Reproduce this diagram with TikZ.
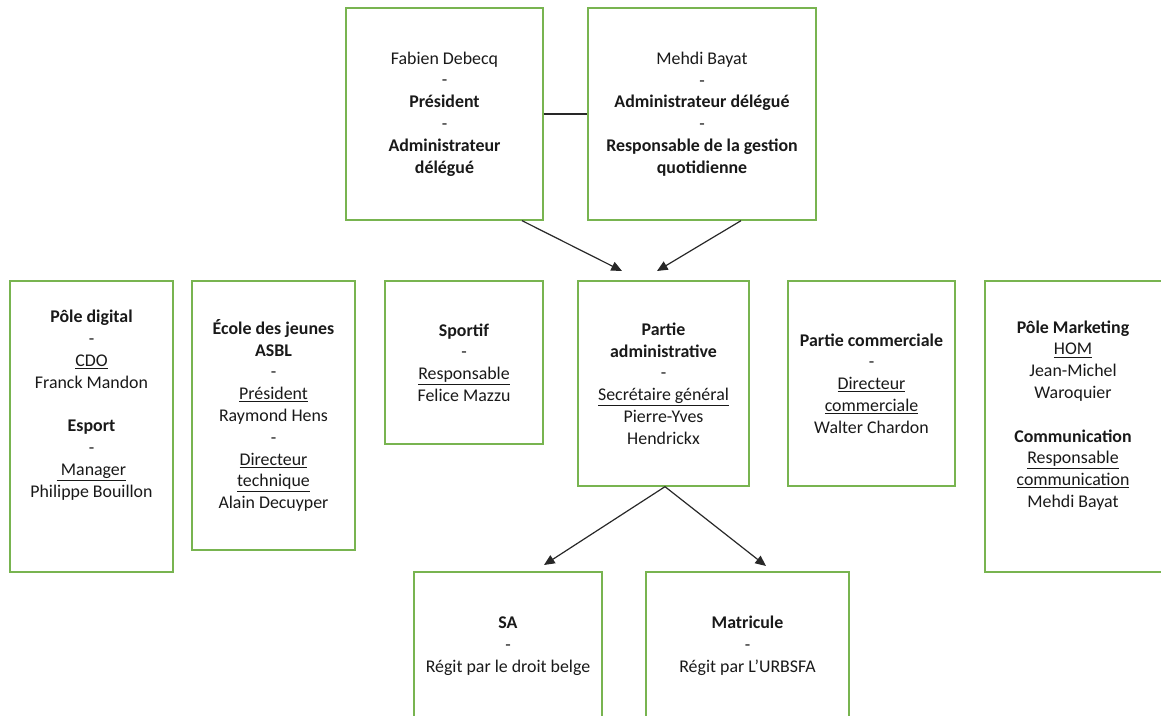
\documentclass[tikz,border=0pt]{standalone}
\usepackage{fontspec}
\setmainfont{Carlito}
\usetikzlibrary{arrows.meta,calc}
\definecolor{boxgreen}{RGB}{120,180,80}
\definecolor{linegray}{RGB}{40,40,40}
\definecolor{textgray}{RGB}{25,25,25}
\tikzset{
  box/.style={draw=boxgreen, line width=1pt, align=center, inner sep=0pt, text=textgray,
    font=\fontsize{13.4}{16.35}\selectfont},
  txt/.style={align=center, inner sep=0pt, text=textgray, font=\fontsize{13.4}{16.35}\selectfont},
  arr/.style={draw=linegray, line width=0.9pt, -{Triangle[length=8pt,width=7pt]}},
  link/.style={draw=linegray, line width=0.9pt}
}
\begin{document}
\begin{tikzpicture}[x=0.75pt,y=-0.75pt]
\useasboundingbox (0,0) rectangle (1161,716);
\clip (0,0) rectangle (1161,716);
% top row
\node[box, minimum width=197*0.75pt, minimum height=212*0.75pt] (fab) at (444.5,114)
  {Fabien Debecq\\-\\\textbf{Président}\\-\\\textbf{Administrateur}\\\textbf{délégué}};
\node[box, minimum width=228*0.75pt, minimum height=212*0.75pt] (meh) at (702,114)
  {Mehdi Bayat\\-\\\textbf{Administrateur délégué}\\-\\\textbf{Responsable de la gestion}\\\textbf{quotidienne}};
\draw[link] (fab.east) -- (meh.west);
% middle row
\node[box, minimum width=163*0.75pt, minimum height=291*0.75pt] (dig) at (91.5,426.5) {};
\node[txt] (digt) at (91.5,405)
  {\textbf{Pôle digital}\\-\\\underline{CDO}\\Franck Mandon\\[16.35pt]\textbf{Esport}\\-\\\underline{\ Manager}\\Philippe Bouillon};
\node[box, minimum width=163*0.75pt, minimum height=269*0.75pt] (eco) at (273.5,415.5)
  {\textbf{École des jeunes}\\\textbf{ASBL}\\-\\\underline{Président}\\Raymond Hens\\-\\\underline{Directeur}\\\underline{technique}\\Alain Decuyper};
\node[box, minimum width=158*0.75pt, minimum height=163*0.75pt] (spo) at (464,362.5)
  {\textbf{Sportif}\\-\\\underline{Responsable}\\Felice Mazzu};
\node[box, minimum width=171*0.75pt, minimum height=205*0.75pt] (adm) at (663.5,383.5)
  {\textbf{Partie}\\\textbf{administrative}\\-\\\underline{Secrétaire général}\\Pierre-Yves\\Hendrickx};
\node[box, minimum width=167*0.75pt, minimum height=205*0.75pt] (com) at (871.5,383.5)
  {\textbf{Partie commerciale}\\-\\\underline{Directeur}\\\underline{commerciale}\\Walter Chardon};
\node[box, minimum width=177*0.75pt, minimum height=291*0.75pt] (mkt) at (1073.5,426.5) {};
\node[txt] (mktt) at (1073,415.5)
  {\textbf{Pôle Marketing}\\\underline{HOM}\\Jean-Michel\\Waroquier\\[16.35pt]\textbf{Communication}\\\underline{Responsable}\\\underline{communication}\\Mehdi Bayat};
% bottom row
\node[box, minimum width=188*0.75pt, minimum height=148*0.75pt] (sa) at (508,646)
  {\textbf{SA}\\-\\Régit par le droit belge};
\node[box, minimum width=203*0.75pt, minimum height=148*0.75pt] (mat) at (747.5,646)
  {\textbf{Matricule}\\-\\Régit par L’URBSFA};
% arrows
\coordinate (e1) at (622,271);
\coordinate (e2) at (657,271);
\coordinate (e3) at (544,565);
\coordinate (e4) at (766,566);
\draw[arr] ($(fab.south)+(77.5,0)$) -- (e1);
\draw[arr] ($(meh.south)+(39,0)$) -- (e2);
\draw[arr] ($(adm.south)+(1.5,0)$) -- (e3);
\draw[arr] ($(adm.south)+(1.5,0)$) -- (e4);
\end{tikzpicture}
\end{document}
